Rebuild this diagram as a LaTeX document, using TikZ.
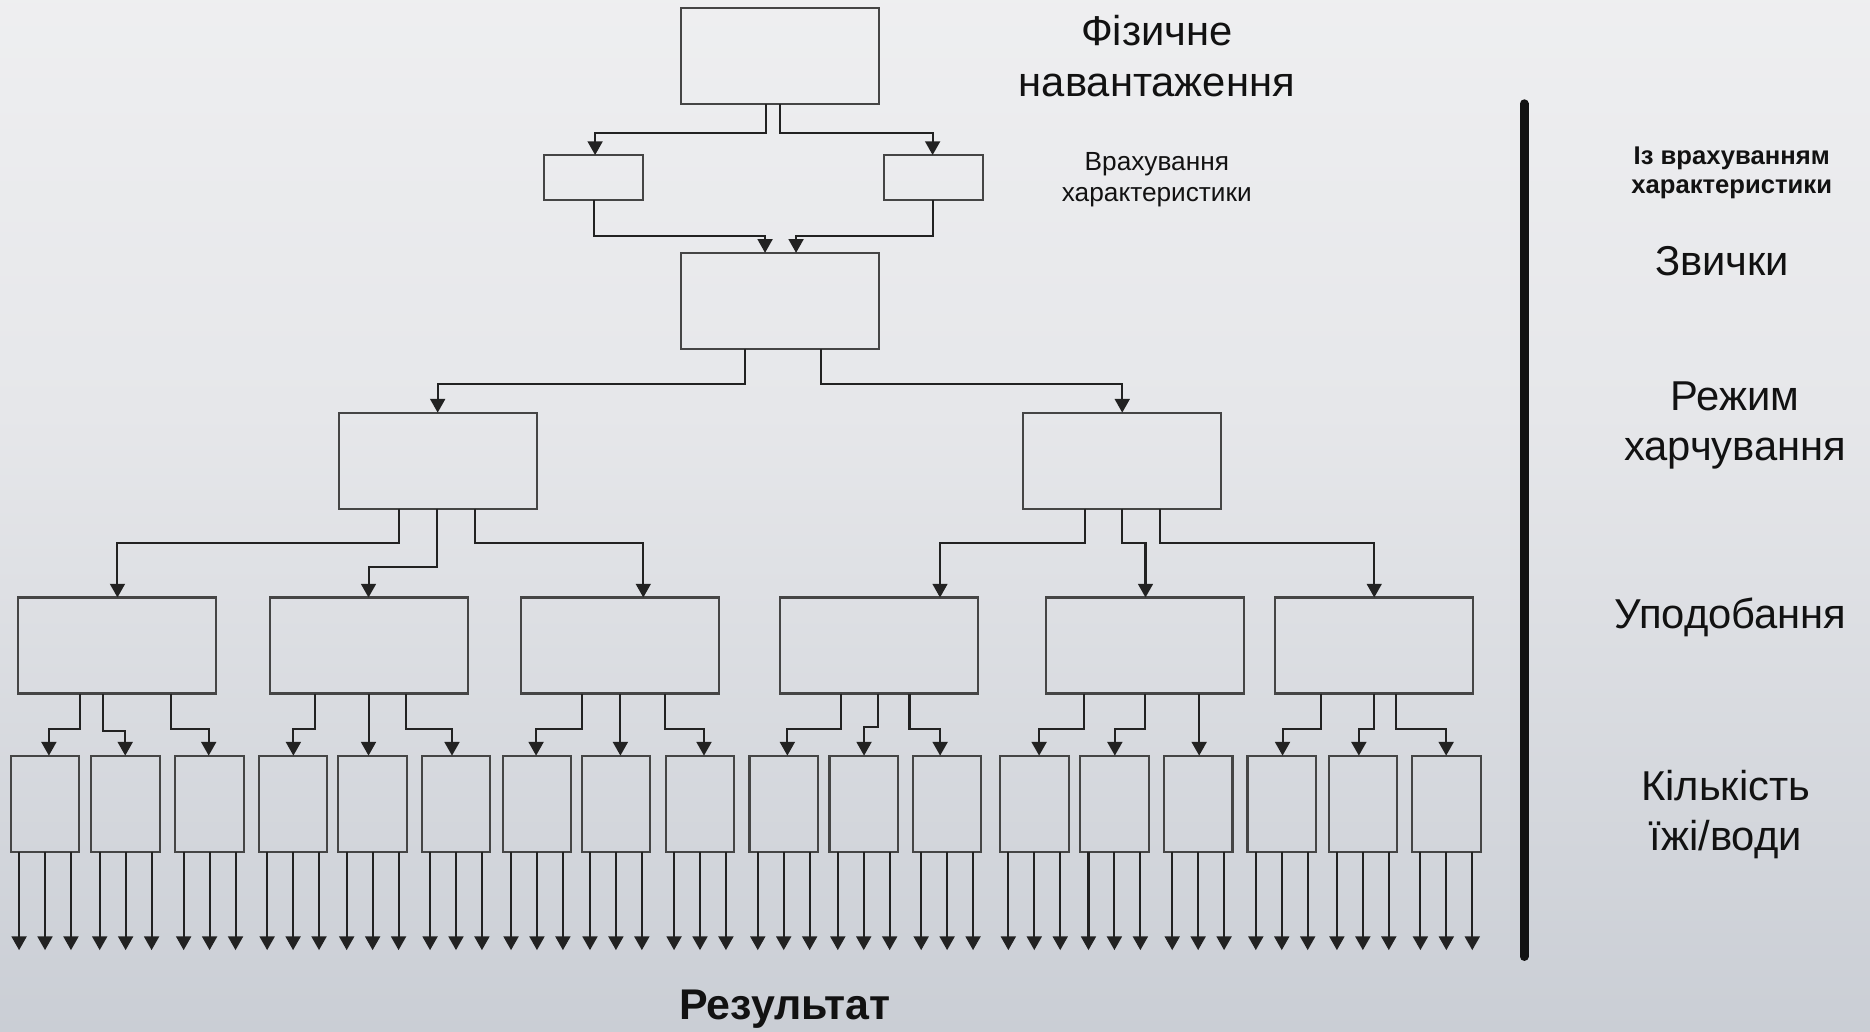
\documentclass[tikz,border=0pt]{standalone}
\usepackage{fontspec}
\setmainfont{Liberation Sans}
\usetikzlibrary{arrows.meta}

\definecolor{bgtop}{HTML}{F8F8F8}
\definecolor{bgmid}{HTML}{E6E7EA}
\definecolor{bglow}{HTML}{CACED5}
\definecolor{bgbot}{HTML}{ACB2BD}
\definecolor{boxline}{HTML}{454545}
\definecolor{linecol}{HTML}{222222}
\definecolor{ink}{HTML}{121212}

\pgfdeclareverticalshading{slidebg}{100bp}{%
  color(0bp)=(bgbot); color(25bp)=(bglow); color(55bp)=(bgmid); color(100bp)=(bgtop)}

% parent, exit x, elbow y, child, entry x
\newcommand\treelink[5]{%
  \draw[link] (#1.south -| #2,0) |- (#5,#3) -- (#4.north -| #5,0);}

\begin{document}
\begin{tikzpicture}[x=1pt,y=-1pt,
  blk/.style={draw=boxline, line width=1.8pt, rectangle, inner sep=0pt,
              outer sep=0pt, anchor=north west},
  bigblk/.style={blk, minimum width=166pt, minimum height=80.5pt},
  smallblk/.style={blk, minimum width=83pt, minimum height=38pt},
  leafblk/.style={blk, minimum width=57.5pt, minimum height=80.5pt},
  link/.style={draw=linecol, line width=1.7pt,
               -{Triangle[length=11.5pt,width=12.5pt]}},
  lbl/.style={text=ink, align=center, inner sep=0pt},
  biglbl/.style={lbl, font=\fontsize{35}{42}\selectfont},
  midlbl/.style={lbl, font=\fontsize{22}{26}\selectfont},
  boldlbl/.style={lbl, font=\bfseries\fontsize{21.5}{25}\selectfont},
]
% background
\shade[shading=slidebg] (0,0) rectangle (1568,865);
\useasboundingbox (0,0) rectangle (1568,865);

% level 1 and the two side blocks
\node[bigblk] (top) at (571,7) {};
\node[smallblk] (sL) at (456,130) {};
\node[smallblk] (sR) at (741,130) {};
\node[bigblk] (mid) at (571,212) {};

\treelink{top}{642}{111.5}{sL}{499}
\treelink{top}{654}{111.5}{sR}{782}
\treelink{sL}{498}{198}{mid}{641.5}
\treelink{sR}{782}{198}{mid}{667.5}

% level 3
\node[bigblk] (pA) at (284,346) {};
\node[bigblk] (pB) at (858,346) {};
\treelink{mid}{624.3}{322}{pA}{367}
\treelink{mid}{688}{322}{pB}{941}

% level 4
\node[bigblk] (q1) at (15.4,501) {};
\node[bigblk] (q2) at (226.4,501) {};
\node[bigblk] (q3) at (436.9,501) {};
\node[bigblk] (q4) at (654,501) {};
\node[bigblk] (q5) at (877,501) {};
\node[bigblk] (q6) at (1069.3,501) {};

\treelink{pA}{334.8}{455.6}{q1}{98.5}
\treelink{pA}{366.4}{475.7}{q2}{309}
\treelink{pA}{398.6}{455.6}{q3}{539.4}
\treelink{pB}{909.8}{455.6}{q4}{788.2}
\treelink{pB}{941}{455.6}{q5}{960.5}
\treelink{pB}{973}{455.6}{q6}{1152.3}

% level 5 with their outputs
\foreach \i/\x in {1/9, 2/76.6, 3/147, 4/217, 5/283.7, 6/353.6,
                   7/421.5, 8/487.7, 9/558.2, 10/628.4, 11/695.5, 12/765.4,
                   13/838.5, 14/905.7, 15/975.9, 16/1046, 17/1114, 18/1184}{
  \node[leafblk] (b\i) at (\x,633.6) {};
  \foreach \d in {7,28.75,50.5}
    \draw[link] ([xshift=\d pt]b\i.south west) -- ++(0,82.6);
}

\treelink{q1}{67}{611.3}{b1}{41}
\treelink{q1}{86}{613}{b2}{105}
\treelink{q1}{143}{611.3}{b3}{175}
\treelink{q2}{264.4}{611.3}{b4}{246}
\treelink{q2}{309}{611.3}{b5}{309}
\treelink{q2}{340.7}{611.3}{b6}{379}
\treelink{q3}{487.7}{611.3}{b7}{449.5}
\treelink{q3}{520.2}{611.3}{b8}{520.2}
\treelink{q3}{557.8}{611.3}{b9}{590.3}
\treelink{q4}{705}{611.3}{b10}{660.2}
\treelink{q4}{736.6}{609.5}{b11}{724.5}
\treelink{q4}{762.6}{611.3}{b12}{788.3}
\treelink{q5}{909.3}{611.3}{b13}{871.3}
\treelink{q5}{960.2}{611.3}{b14}{934.8}
\treelink{q5}{1005.5}{611.3}{b15}{1005.5}
\treelink{q6}{1107.6}{611.3}{b16}{1075.4}
\treelink{q6}{1151.7}{611.3}{b17}{1139.4}
\treelink{q6}{1170.7}{611.3}{b18}{1212.6}

% captions
\node[biglbl] (tLoad) at (970,47) {Фізичне\\навантаження};
\node[midlbl] (tChar) at (970,150.5) {Врахування\\характеристики};
\node[boldlbl] (tWith) at (1452,145) {Із врахуванням\\характеристики};
\node[biglbl] (tHabit) at (1444,219) {Звички};
\node[biglbl] (tDiet) at (1455,357) {Режим\\харчування};
\node[biglbl] (tPref) at (1451,518) {Уподобання};
\node[biglbl] (tQty) at (1447,683) {Кількість\\їжі/води};
\node[lbl, font=\bfseries\fontsize{36}{40}\selectfont] (tRes) at (658,846) {Результат};

% divider
\draw[ink, line width=7.5pt, line cap=round] (1278,87) -- (1278,802);
\end{tikzpicture}
\end{document}
